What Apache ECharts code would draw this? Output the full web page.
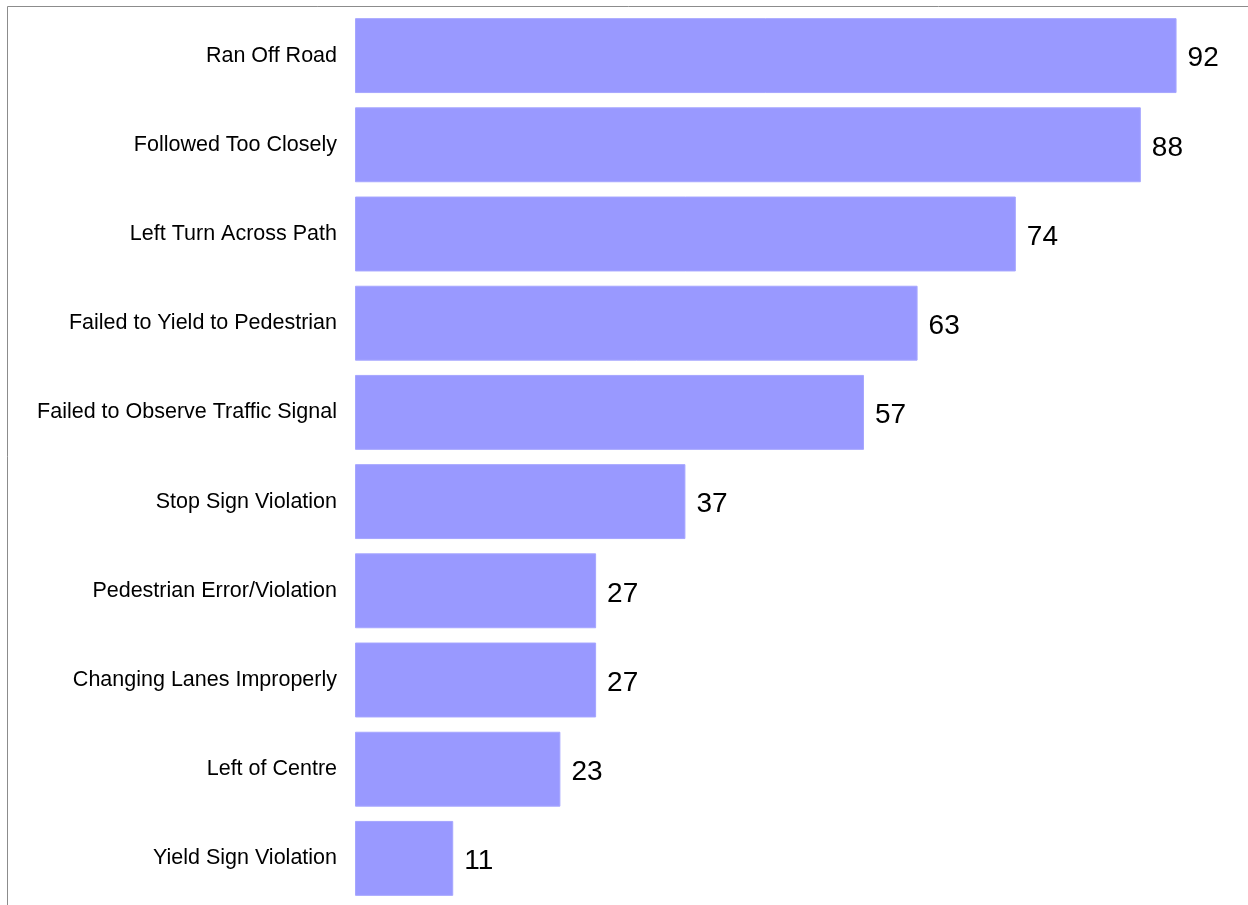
<!DOCTYPE html>
<html>
<head>
<meta charset="utf-8">
<style>
  html, body { margin: 0; padding: 0; background: #ffffff; }
  #chart { width: 1248px; height: 905px; }
</style>
<script src="https://cdn.jsdelivr.net/npm/echarts@6/dist/echarts.min.js"></script>
</head>
<body>
<div id="chart"></div>
<script>
// Collision contributing factors, listed from top to bottom
const categories = [
  'Ran Off Road',
  'Followed Too Closely',
  'Left Turn Across Path',
  'Failed to Yield to Pedestrian',
  'Failed to Observe Traffic Signal',
  'Stop Sign Violation',
  'Pedestrian Error/Violation',
  'Changing Lanes Improperly',
  'Left of Centre',
  'Yield Sign Violation'
];
const counts = [92, 88, 74, 63, 57, 37, 27, 27, 23, 11];

const chart = echarts.init(document.getElementById('chart'), null, { renderer: 'canvas' });

chart.setOption({
  animation: false,
  backgroundColor: '#ffffff',
  graphic: [{
    type: 'rect',
    shape: { x: 7.5, y: 6.5, width: 1400, height: 1100 },
    style: { fill: 'none', stroke: '#8c8c8c', lineWidth: 1 },
    silent: true,
    z: -1
  }],
  grid: { left: 355, right: 0, top: 11, bottom: 2, containLabel: false },
  xAxis: {
    type: 'value',
    min: 0,
    max: 100,
    show: false
  },
  yAxis: {
    type: 'category',
    inverse: true,
    data: categories,
    axisLine: { show: false },
    axisTick: { show: false },
    splitLine: { show: false },
    axisLabel: {
      margin: 18,
      color: '#000000',
      fontFamily: 'Liberation Sans, Arial, sans-serif',
      fontSize: 21.5,
      padding: [4, 0, 0, 0]
    }
  },
  series: [{
    type: 'bar',
    data: counts,
    barCategoryGap: '16%',
    itemStyle: { color: '#9999ff', borderColor: '#a6a6ff', borderWidth: 1 },
    label: {
      show: true,
      position: 'right',
      distance: 11,
      offset: [0, 3],
      color: '#000000',
      fontFamily: 'Liberation Sans, Arial, sans-serif',
      fontSize: 28
    }
  }]
});
</script>
</body>
</html>
